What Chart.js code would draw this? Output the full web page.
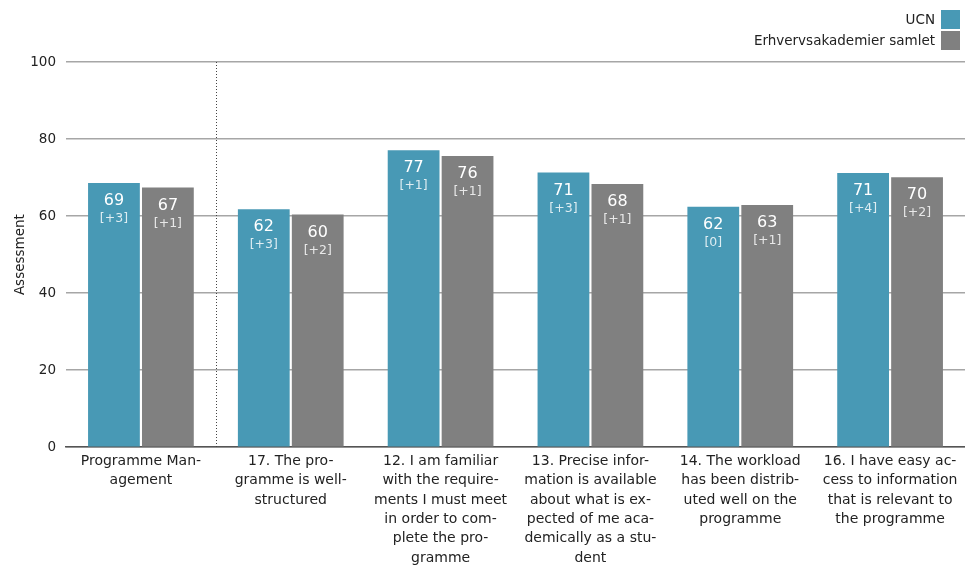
<!DOCTYPE html>
<html>
<head>
<meta charset="utf-8">
<script src="https://cdn.jsdelivr.net/npm/chart.js@4"></script>
<style>
  html, body { margin: 0; padding: 0; background: #fff; }
  #wrap { width: 965px; height: 567px; position: relative; }
</style>
</head>
<body>
<div id="wrap"><canvas id="chart"></canvas></div>
<script>
// Data
const categories = [
  ['Programme Man-', 'agement'],
  ['17. The pro-', 'gramme is well-', 'structured'],
  ['12. I am familiar', 'with the require-', 'ments I must meet', 'in order to com-', 'plete the pro-', 'gramme'],
  ['13. Precise infor-', 'mation is available', 'about what is ex-', 'pected of me aca-', 'demically as a stu-', 'dent'],
  ['14. The workload', 'has been distrib-', 'uted well on the', 'programme'],
  ['16. I have easy ac-', 'cess to information', 'that is relevant to', 'the programme']
];
const seriesNames = ['UCN', 'Erhvervsakademier samlet'];
const ucnValues = [68.6, 61.8, 77.1, 71.3, 62.4, 71.2];
const allValues = [67.4, 60.4, 75.6, 68.3, 62.9, 70.1];
const ucnLabels = ['69', '62', '77', '71', '62', '71'];
const allLabels = ['67', '60', '76', '68', '63', '70'];
const ucnDeltas = ['[+3]', '[+3]', '[+1]', '[+3]', '[0]', '[+4]'];
const allDeltas = ['[+1]', '[+2]', '[+1]', '[+1]', '[+1]', '[+2]'];
const yTicks = [0, 20, 40, 60, 80, 100];

const BLUE = '#4899b5';
const GREY = '#808080';
const FONT = '"DejaVu Sans", Verdana, sans-serif';

// Value labels inside the bars
const barLabels = {
  id: 'barLabels',
  afterDatasetsDraw(chart) {
    const ctx = chart.ctx;
    const texts = [[ucnLabels, ucnDeltas], [allLabels, allDeltas]];
    ctx.save();
    ctx.textAlign = 'center';
    ctx.textBaseline = 'middle';
    chart.data.datasets.forEach((ds, di) => {
      chart.getDatasetMeta(di).data.forEach((bar, i) => {
        ctx.fillStyle = '#ffffff';
        ctx.font = '16px ' + FONT;
        ctx.fillText(texts[di][0][i], bar.x, bar.y + 18);
        ctx.fillStyle = 'rgba(255,255,255,0.82)';
        ctx.font = '12.5px ' + FONT;
        ctx.fillText(texts[di][1][i], bar.x, bar.y + 36);
      });
    });
    ctx.restore();
  }
};

// Dotted separator after the first category
const separator = {
  id: 'separator',
  beforeDatasetsDraw(chart) {
    const x = chart.scales.x;
    const y = chart.scales.y;
    const sx = Math.round((x.getPixelForValue(0) + x.getPixelForValue(1)) / 2) + 0.5;
    const ctx = chart.ctx;
    ctx.save();
    ctx.strokeStyle = '#444';
    ctx.lineWidth = 1;
    ctx.setLineDash([1, 2]);
    ctx.beginPath();
    ctx.moveTo(sx, y.getPixelForValue(100));
    ctx.lineTo(sx, y.getPixelForValue(0));
    ctx.stroke();
    ctx.restore();
  }
};

// Legend at top right, text right-aligned with box on the right
const rightLegend = {
  id: 'rightLegend',
  afterDraw(chart) {
    const ctx = chart.ctx;
    const colors = [BLUE, GREY];
    ctx.save();
    ctx.font = '13.5px ' + FONT;
    ctx.textAlign = 'right';
    ctx.textBaseline = 'middle';
    seriesNames.forEach((name, i) => {
      const top = 10 + i * 21;
      ctx.fillStyle = colors[i];
      ctx.fillRect(941, top, 19, 19);
      ctx.fillStyle = '#222';
      ctx.fillText(name, 935, top + 10);
    });
    ctx.restore();
  }
};

new Chart(document.getElementById('chart'), {
  type: 'bar',
  data: {
    labels: categories,
    datasets: [
      { label: seriesNames[0], data: ucnValues, backgroundColor: BLUE },
      { label: seriesNames[1], data: allValues, backgroundColor: GREY }
    ]
  },
  options: {
    responsive: true,
    maintainAspectRatio: false,
    animation: false,
    layout: { padding: { top: 62, right: 0, left: 0, bottom: -5 } },
    datasets: { bar: { categoryPercentage: 0.72, barPercentage: 0.96 } },
    plugins: {
      legend: { display: false },
      tooltip: { enabled: false }
    },
    scales: {
      x: {
        grid: { display: false, drawTicks: false },
        border: { color: '#555', width: 1.5 },
        ticks: {
          color: '#222',
          font: { family: FONT, size: 14, lineHeight: 1.39 },
          maxRotation: 0,
          autoSkip: false,
          padding: 4
        }
      },
      y: {
        min: 0,
        max: 100,
        afterBuildTicks(scale) { scale.ticks = yTicks.map(v => ({ value: v })); },
        afterFit(scale) { scale.width = 66; },
        grid: { color: '#a6a6a6', lineWidth: 1.5, drawTicks: false },
        border: { display: false },
        ticks: {
          color: '#222',
          font: { family: FONT, size: 13.5 },
          padding: 10
        },
        title: {
          display: true,
          text: 'Assessment',
          color: '#222',
          font: { family: FONT, size: 13.5 },
          padding: { top: 12, bottom: 3 }
        }
      }
    }
  },
  plugins: [barLabels, separator, rightLegend]
});
</script>
</body>
</html>
